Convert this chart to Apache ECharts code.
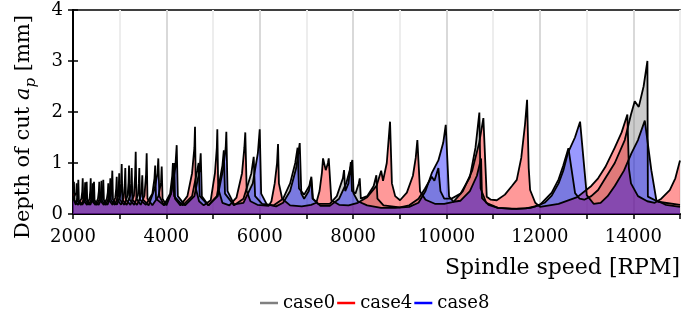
<!DOCTYPE html>
<html>
<head>
<meta charset="utf-8">
<script src="https://cdn.jsdelivr.net/npm/echarts@6/dist/echarts.min.js"></script>
<style>
  html, body { margin: 0; padding: 0; background: #fff; }
  #chart { width: 693px; height: 320px; }
</style>
</head>
<body>
<div id="chart"></div>
<script>
// stability boundaries: [spindle speed RPM, depth of cut mm]
const case0 = [
  [2000,0.30],[2070,0.42],[2080,0.60],[2092,0.26],[2170,0.18],[2240,0.30],[2252,0.42],[2260,0.62],[2272,0.26],
  [2340,0.18],[2400,0.30],[2412,0.42],[2420,0.60],[2432,0.26],[2510,0.18],[2585,0.32],[2600,0.45],[2610,0.65],
  [2622,0.26],[2700,0.18],[2770,0.32],[2788,0.47],[2800,0.70],[2813,0.27],[2900,0.18],[2965,0.35],[2980,0.54],
  [2990,0.80],[3004,0.28],[3100,0.18],[3170,0.37],[3190,0.62],[3200,0.95],[3215,0.28],[3310,0.18],[3390,0.37],
  [3410,0.60],[3420,0.90],[3435,0.28],[3560,0.18],[3700,0.40],[3745,0.70],[3760,0.95],[3778,0.30],[3950,0.17],
  [4080,0.40],[4125,0.75],[4140,1.00],[4165,0.35],[4350,0.17],[4550,0.35],[4660,0.85],[4690,1.00],[4715,0.35],
  [4900,0.17],[5080,0.35],[5200,0.95],[5230,1.25],[5255,0.40],[5450,0.17],[5650,0.30],[5820,0.80],[5870,1.12],
  [5900,0.35],[6050,0.20],[6300,0.17],[6500,0.30],[6650,0.60],[6760,1.00],[6810,1.30],[6840,0.50],[6950,0.38],
  [7060,0.55],[7105,0.73],[7140,0.30],[7250,0.20],[7500,0.20],[7650,0.35],[7780,0.70],[7805,0.86],[7830,0.45],
  [7900,0.60],[7950,1.02],[7975,0.45],[8050,0.40],[8120,0.60],[8141,0.70],[8165,0.30],[8300,0.35],[8440,0.55],
  [8497,0.76],[8520,0.30],[8650,0.17],[9000,0.13],[9200,0.17],[9400,0.30],[9540,0.50],[9683,0.73],[9740,0.65],
  [9825,0.90],[9870,0.45],[9950,0.30],[10100,0.30],[10300,0.40],[10500,0.72],[10620,1.30],[10703,1.99],[10730,0.50],
  [10850,0.22],[11100,0.12],[11500,0.10],[11800,0.12],[12000,0.18],[12253,0.42],[12400,0.68],[12500,0.95],
  [12610,1.29],[12753,0.41],[12850,0.30],[12950,0.28],[13100,0.35],[13246,0.47],[13400,0.70],[13603,1.00],
  [13817,1.45],[13950,1.95],[14031,2.21],[14117,2.10],[14220,2.50],[14302,3.00],[14312,0.34],[14531,0.24],[15000,0.18]
]
const case4 = [
  [2000,0.40],[2020,0.63],[2032,0.27],[2110,0.18],[2180,0.30],[2198,0.44],[2208,0.70],[2220,0.27],[2300,0.18],
  [2355,0.30],[2370,0.46],[2379,0.70],[2392,0.27],[2480,0.18],[2535,0.30],[2553,0.44],[2563,0.63],[2577,0.27],
  [2660,0.18],[2725,0.30],[2745,0.42],[2756,0.60],[2770,0.27],[2850,0.18],[2905,0.32],[2925,0.50],[2936,0.73],
  [2950,0.28],[3030,0.18],[3085,0.32],[3108,0.58],[3120,0.90],[3135,0.28],[3230,0.18],[3305,0.36],[3330,0.75],
  [3343,1.22],[3358,0.30],[3450,0.18],[3530,0.36],[3565,0.78],[3578,1.19],[3595,0.30],[3700,0.17],[3830,0.35],
  [3885,0.62],[3900,0.93],[3918,0.30],[4000,0.17],[4100,0.40],[4155,0.70],[4170,1.00],[4185,0.30],[4300,0.17],
  [4450,0.35],[4550,0.80],[4600,1.30],[4613,1.71],[4630,0.50],[4700,0.25],[4800,0.17],[4950,0.27],[5040,0.80],
  [5080,1.30],[5091,1.66],[5110,0.50],[5200,0.22],[5350,0.17],[5500,0.32],[5620,0.80],[5670,1.30],[5690,1.60],
  [5720,0.45],[5800,0.25],[5950,0.18],[6192,0.16],[6250,0.25],[6320,0.60],[6370,1.00],[6391,1.37],[6410,0.60],
  [6480,0.30],[6650,0.17],[6900,0.15],[7100,0.18],[7212,0.22],[7280,0.45],[7330,0.80],[7355,1.09],[7413,0.86],
  [7460,1.00],[7477,1.09],[7533,0.27],[7700,0.18],[7900,0.17],[8100,0.22],[8300,0.33],[8500,0.55],[8600,0.85],
  [8640,0.65],[8720,1.00],[8790,1.81],[8830,0.60],[8900,0.35],[9004,0.27],[9150,0.42],[9280,0.75],[9340,1.10],
  [9375,1.45],[9433,0.44],[9550,0.28],[9750,0.20],[9950,0.20],[10150,0.24],[10350,0.45],[10550,0.85],[10700,1.40],
  [10789,1.88],[10861,0.34],[10950,0.28],[11076,0.27],[11250,0.38],[11400,0.55],[11504,0.67],[11600,1.10],
  [11680,1.75],[11725,2.24],[11760,0.90],[11790,0.47],[11900,0.22],[12003,0.14],[12400,0.20],[12800,0.33],
  [13100,0.55],[13246,0.70],[13400,0.92],[13603,1.30],[13750,1.60],[13873,1.95],[13905,0.90],[13950,0.60],
  [14100,0.35],[14300,0.25],[14459,0.22],[14600,0.30],[14781,0.47],[14900,0.70],[15000,1.05]
]
const case8 = [
  [2000,0.32],[2060,0.18],[2095,0.32],[2106,0.46],[2114,0.67],[2126,0.27],[2200,0.18],[2270,0.30],[2284,0.44],
  [2293,0.63],[2305,0.27],[2370,0.18],[2425,0.30],[2440,0.44],[2450,0.63],[2462,0.27],[2550,0.18],[2620,0.32],
  [2638,0.46],[2649,0.67],[2662,0.27],[2740,0.18],[2810,0.36],[2830,0.56],[2842,0.85],[2856,0.28],[2940,0.18],
  [3010,0.36],[3030,0.60],[3043,0.98],[3058,0.28],[3150,0.18],[3225,0.36],[3245,0.60],[3257,0.90],[3272,0.28],
  [3370,0.18],[3450,0.34],[3472,0.52],[3484,0.76],[3500,0.28],[3620,0.17],[3750,0.50],[3810,0.80],[3827,1.09],
  [3850,0.35],[3950,0.17],[4100,0.40],[4190,0.90],[4221,1.35],[4245,0.35],[4400,0.17],[4600,0.35],[4710,0.85],
  [4735,1.19],[4760,0.35],[4900,0.17],[5100,0.35],[5220,0.90],[5270,1.30],[5284,1.61],[5310,0.45],[5450,0.19],
  [5650,0.22],[5850,0.60],[5960,1.20],[5999,1.66],[6030,0.40],[6150,0.19],[6350,0.15],[6500,0.22],[6650,0.45],
  [6780,0.90],[6856,1.39],[6890,0.40],[6950,0.30],[7050,0.45],[7100,0.70],[7130,0.30],[7300,0.16],[7500,0.16],
  [7700,0.30],[7850,0.60],[7940,0.90],[7983,1.06],[8010,0.40],[8100,0.25],[8300,0.17],[8600,0.12],[8900,0.12],
  [9200,0.14],[9400,0.22],[9550,0.45],[9683,0.80],[9825,1.05],[9930,1.40],[9983,1.75],[10054,0.34],[10150,0.24],
  [10300,0.26],[10500,0.45],[10650,0.75],[10740,1.09],[10760,0.31],[10900,0.18],[11100,0.12],[11400,0.10],
  [11700,0.11],[11900,0.15],[12100,0.22],[12253,0.36],[12400,0.60],[12500,0.85],[12600,1.20],[12750,1.50],
  [12860,1.81],[13003,0.37],[13150,0.20],[13300,0.22],[13450,0.35],[13603,0.55],[13800,0.85],[13959,1.19],
  [14100,1.45],[14246,1.83],[14386,0.86],[14494,0.27],[14700,0.18],[15000,0.14]
]

const seriesNames = ['case0', 'case4', 'case8']
const seriesData = [case0, case4, case8]
const fills = ['rgba(128,128,128,0.4)', 'rgba(255,0,0,0.4)', 'rgba(0,0,255,0.4)']
const legendColors = ['#808080', '#ff0000', '#0000ff']

const FONT = 'DejaVu Serif'
const chart = echarts.init(document.getElementById('chart'), null, { renderer: 'canvas' })

const option = {
  animation: false,
  backgroundColor: '#fff',
  grid: {
    left: 73, right: 13, top: 10, bottom: 106,
    show: true, borderColor: '#000', borderWidth: 1.5
  },
  legend: {
    left: 255, top: 289,
    icon: 'rect', itemWidth: 18, itemHeight: 2.5, itemGap: 2,
    textStyle: { fontFamily: FONT, fontSize: 18, color: '#000' },
    data: seriesNames.map((n, i) => ({ name: n, itemStyle: { color: legendColors[i] } }))
  },
  xAxis: {
    type: 'value',
    min: 2000, max: 15000, interval: 1000,
    name: 'Spindle speed [RPM]',
    nameLocation: 'end', nameGap: 0,
    nameTextStyle: { fontFamily: FONT, fontSize: 22, color: '#000', align: 'right', verticalAlign: 'top', padding: [43, 0, 0, 0] },
    axisLine: { lineStyle: { color: '#000', width: 2 } },
    axisTick: { length: 5, lineStyle: { color: '#000', width: 1.5 } },
    axisLabel: {
      interval: 1, margin: 14, fontFamily: FONT, fontSize: 18, color: '#000',
      formatter: v => (v % 2000 === 0 && v < 15000) ? String(v) : ''
    },
    splitLine: { show: true, lineStyle: { color: ['#d9d9d9', '#ededed'], width: 2 } }
  },
  yAxis: [{
    type: 'value',
    min: 0, max: 4, interval: 1,
    name: '{n|Depth of cut }{i|a}{s|p}{n| [mm]}',
    nameLocation: 'middle', nameRotate: 90, nameGap: 34,
    nameTextStyle: {
      color: '#000',
      padding: [0, 30, 0, 0],
      rich: {
        n: { fontFamily: FONT, fontSize: 21, color: '#000', lineHeight: 30 },
        i: { fontFamily: FONT, fontSize: 21, fontStyle: 'italic', color: '#000', lineHeight: 30 },
        s: { fontFamily: FONT, fontSize: 15, fontStyle: 'italic', color: '#000', lineHeight: 30, verticalAlign: 'bottom' }
      }
    },
    axisLine: { show: true, lineStyle: { color: '#000', width: 2 } },
    axisTick: { show: true, length: 5, lineStyle: { color: '#000', width: 1.5 } },
    axisLabel: { margin: 10, fontFamily: FONT, fontSize: 18, color: '#000' },
    splitLine: { show: false }
  }, {
    type: 'value',
    min: 0, max: 4, interval: 1,
    position: 'left',
    axisLine: { show: true, lineStyle: { color: '#000', width: 2 } },
    axisTick: { show: true, inside: true, length: 5, lineStyle: { color: '#000', width: 1.5 } },
    axisLabel: { show: false },
    splitLine: { show: false }
  }],
  series: seriesNames.map((n, i) => ({
    name: n,
    type: 'line',
    data: seriesData[i],
    showSymbol: false,
    symbol: 'none',
    itemStyle: { color: legendColors[i] },
    lineStyle: { color: '#000', width: 1.8 },
    areaStyle: { color: fills[i], opacity: 1 },
    emphasis: { disabled: true }
  }))
}

chart.setOption(option)
window.addEventListener('resize', () => chart.resize())
</script>
</body>
</html>
